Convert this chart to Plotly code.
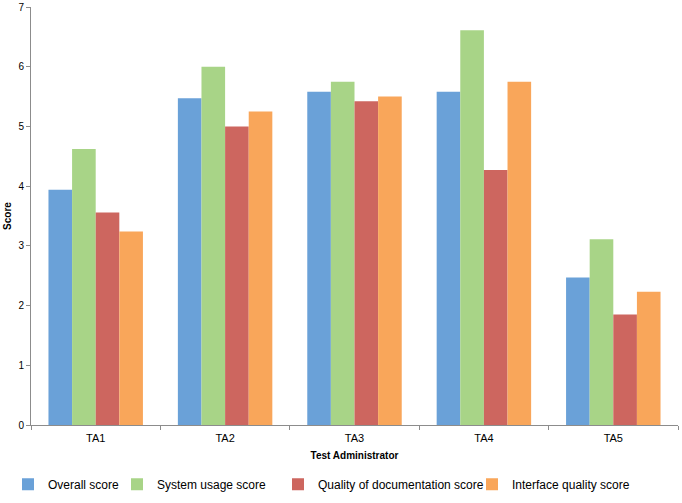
import plotly.graph_objects as go

categories = ["TA1", "TA2", "TA3", "TA4", "TA5"]
series_names = ["Overall score", "System usage score",
                "Quality of documentation score", "Interface quality score"]
overall = [3.94, 5.47, 5.58, 5.58, 2.47]
system_usage = [4.62, 6.00, 5.75, 6.61, 3.11]
documentation = [3.56, 5.00, 5.42, 4.27, 1.85]
interface = [3.24, 5.25, 5.50, 5.75, 2.23]
y_ticks = [0, 1, 2, 3, 4, 5, 6, 7]

colors = ["#6AA1D8", "#A8D487", "#CD665F", "#F9A65A"]
values = [overall, system_usage, documentation, interface]
legend_ids = ["legend", "legend2", "legend3", "legend4"]
legend_x_px = [8, 117, 278, 472]

FONT = "Liberation Sans"
W, H = 682, 503
L, R, T = 31, 4, 7
PLOT_BOTTOM = 430
B = H - PLOT_BOTTOM
pw = W - L - R
ph = PLOT_BOTTOM - T
LEGEND_Y_PX = 490

fig = go.Figure()
for name, vals, col, lid in zip(series_names, values, colors, legend_ids):
    fig.add_trace(go.Bar(x=categories, y=vals, name=name, marker_color=col,
                         marker_line_width=0, legend=lid))

layout_legends = {}
for lid, px in zip(legend_ids, legend_x_px):
    layout_legends[lid] = dict(
        x=(px - L) / pw, xanchor="left",
        y=-(LEGEND_Y_PX - PLOT_BOTTOM) / ph, yanchor="middle",
        orientation="h", font=dict(family=FONT, size=12, color="#000000"),
        bgcolor="rgba(0,0,0,0)", itemwidth=30)

fig.update_layout(
    width=W, height=H,
    margin=dict(l=L, r=R, t=T, b=B),
    paper_bgcolor="white", plot_bgcolor="white",
    barmode="group", bargap=0.27, bargroupgap=0,
    showlegend=True,
    **layout_legends,
    xaxis=dict(
        showline=True, linecolor="#8c8c8c", linewidth=1,
        ticks="outside", tickson="boundaries", ticklen=4, tickcolor="#8c8c8c",
        ticklabelstandoff=3,
        tickfont=dict(family=FONT, size=11, color="#000000"),
        title=dict(text="<b>Test Administrator</b>", standoff=8,
                   font=dict(family=FONT, size=10, color="#000000")),
        showgrid=False, automargin=False,
    ),
    yaxis=dict(
        range=[0, 7], tickvals=y_ticks,
        showline=True, linecolor="#8c8c8c", linewidth=1,
        ticks="outside", ticklen=4, tickcolor="#8c8c8c",
        tickfont=dict(family=FONT, size=10, color="#000000"),
        title=dict(text="<b>Score</b>", standoff=4,
                   font=dict(family=FONT, size=10, color="#000000")),
        showgrid=False, zeroline=False, automargin=False,
    ),
)

post = ("document.documentElement.style.margin='0px';"
        "document.body.style.margin='0px';")
fig.write_html("out.html", post_script=post,
               config={"displayModeBar": False})
